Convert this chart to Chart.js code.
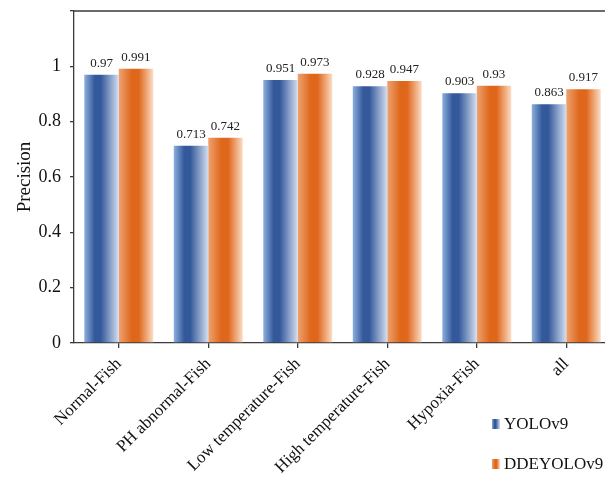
<!DOCTYPE html>
<html><head><meta charset="utf-8">
<script src="https://cdn.jsdelivr.net/npm/chart.js@4.4.0/dist/chart.umd.min.js"></script>
<style>
html,body{margin:0;padding:0;overflow:hidden;background:#fff;width:605px;height:477px}
#wrap{position:relative;width:616px;height:477px}
canvas{display:block}
</style>
</head><body>
<div id="wrap"><canvas id="c" width="616" height="477"></canvas></div>
<script>
const categories = ['Normal-Fish', 'PH abnormal-Fish', 'Low temperature-Fish', 'High temperature-Fish', 'Hypoxia-Fish', 'all'];
const yoloValues = [0.97, 0.713, 0.951, 0.928, 0.903, 0.863];
const ddeValues = [0.991, 0.742, 0.973, 0.947, 0.93, 0.917];
const seriesNames = ['YOLOv9', 'DDEYOLOv9'];
const yTickStep = 0.2;
const yMax = 1.2;

const SERIF = '"Liberation Serif", "Times New Roman", serif';
const CAT_PCT = 0.77;
const AXIS = '#3a3a3a';

// horizontal shading stops for each series: light edge, deep core, pale edge
const shades = [
  ['#8cafdd', '#34599b', '#d3def0', 0.3, 0.48],
  ['#eea271', '#df671b', '#fcdcc6', 0.38, 0.58]
];

function makeShade(ctx, left, right, s) {
  const g = ctx.createLinearGradient(left, 0, right, 0);
  g.addColorStop(0, s[0]);
  g.addColorStop(s[3], s[1]);
  g.addColorStop(s[4], s[1]);
  g.addColorStop(1, s[2]);
  return g;
}

function barFill(context) {
  const chart = context.chart;
  const xs = chart.scales.x;
  if (!xs || !chart.chartArea) return shades[context.datasetIndex][1];
  const center = xs.getPixelForValue(context.dataIndex);
  const bw = (xs.width / categories.length) * CAT_PCT / 2;
  const left = context.datasetIndex === 0 ? center - bw : center;
  return makeShade(chart.ctx, left, left + bw, shades[context.datasetIndex]);
}

const valueLabels = {
  id: 'valueLabels',
  afterDatasetsDraw(chart) {
    const ctx = chart.ctx;
    ctx.save();
    ctx.font = '13px ' + SERIF;
    ctx.fillStyle = '#222';
    ctx.textAlign = 'center';
    ctx.textBaseline = 'bottom';
    chart.data.datasets.forEach((ds, di) => {
      chart.getDatasetMeta(di).data.forEach((el, i) => {
        ctx.fillText(String(ds.data[i]), el.x, el.y - 5);
      });
    });
    ctx.restore();
  }
};

// upper frame edge of the plot
const frameTop = {
  id: 'frameTop',
  afterDraw(chart) {
    const a = chart.chartArea;
    const ctx = chart.ctx;
    ctx.save();
    ctx.strokeStyle = AXIS;
    ctx.lineWidth = 1.3;
    ctx.beginPath();
    ctx.moveTo(a.left, a.top);
    ctx.lineTo(a.right + 20, a.top);
    ctx.stroke();
    ctx.restore();
  }
};

const sideLegend = {
  id: 'sideLegend',
  afterDraw(chart) {
    const ctx = chart.ctx;
    const rows = [424, 464];
    ctx.save();
    ctx.font = '17px ' + SERIF;
    ctx.textBaseline = 'middle';
    ctx.textAlign = 'left';
    chart.data.datasets.forEach((ds, di) => {
      const y = rows[di];
      ctx.fillStyle = makeShade(ctx, 492, 500, shades[di]);
      ctx.fillRect(492, y - 5, 8, 10);
      ctx.fillStyle = '#111';
      ctx.fillText(ds.label, 504, y + 1);
    });
    ctx.restore();
  }
};

new Chart(document.getElementById('c'), {
  type: 'bar',
  data: {
    labels: categories,
    datasets: [
      { label: seriesNames[0], data: yoloValues, backgroundColor: barFill, borderWidth: 0 },
      { label: seriesNames[1], data: ddeValues, backgroundColor: barFill, borderWidth: 0 }
    ]
  },
  options: {
    responsive: false,
    animation: false,
    events: [],
    layout: { padding: { top: 11, right: 5, left: 14, bottom: 0 } },
    datasets: { bar: { categoryPercentage: CAT_PCT, barPercentage: 1 } },
    plugins: { legend: { display: false }, tooltip: { enabled: false } },
    scales: {
      x: {
        offset: true,
        grid: { display: true, drawOnChartArea: false, offset: false, color: AXIS, tickLength: 5, lineWidth: 1.3 },
        border: { display: true, color: AXIS, width: 1.3 },
        ticks: { color: '#111', font: { family: SERIF, size: 17 }, minRotation: 45, maxRotation: 45, autoSkip: false, padding: 6 },
        afterFit(scale) { scale.height = 134; }
      },
      y: {
        min: 0, max: yMax,
        grid: { display: true, drawOnChartArea: false, color: AXIS, tickLength: 4, lineWidth: 1.3 },
        border: { display: true, color: AXIS, width: 1.3 },
        ticks: {
          stepSize: yTickStep,
          color: '#111',
          font: { family: SERIF, size: 18 },
          padding: 9,
          callback(v) { return v >= yMax - 1e-9 ? '' : String(Math.round(v * 10) / 10); }
        },
        title: { display: true, text: 'Precision', color: '#111', font: { family: SERIF, size: 19 }, padding: { top: 0, bottom: 4 } },
        afterFit(scale) {
          scale.width = 60;
          scale.paddingTop = 0;
          scale.paddingBottom = 0;
        }
      }
    }
  },
  plugins: [valueLabels, frameTop, sideLegend]
});
</script>
</body></html>
